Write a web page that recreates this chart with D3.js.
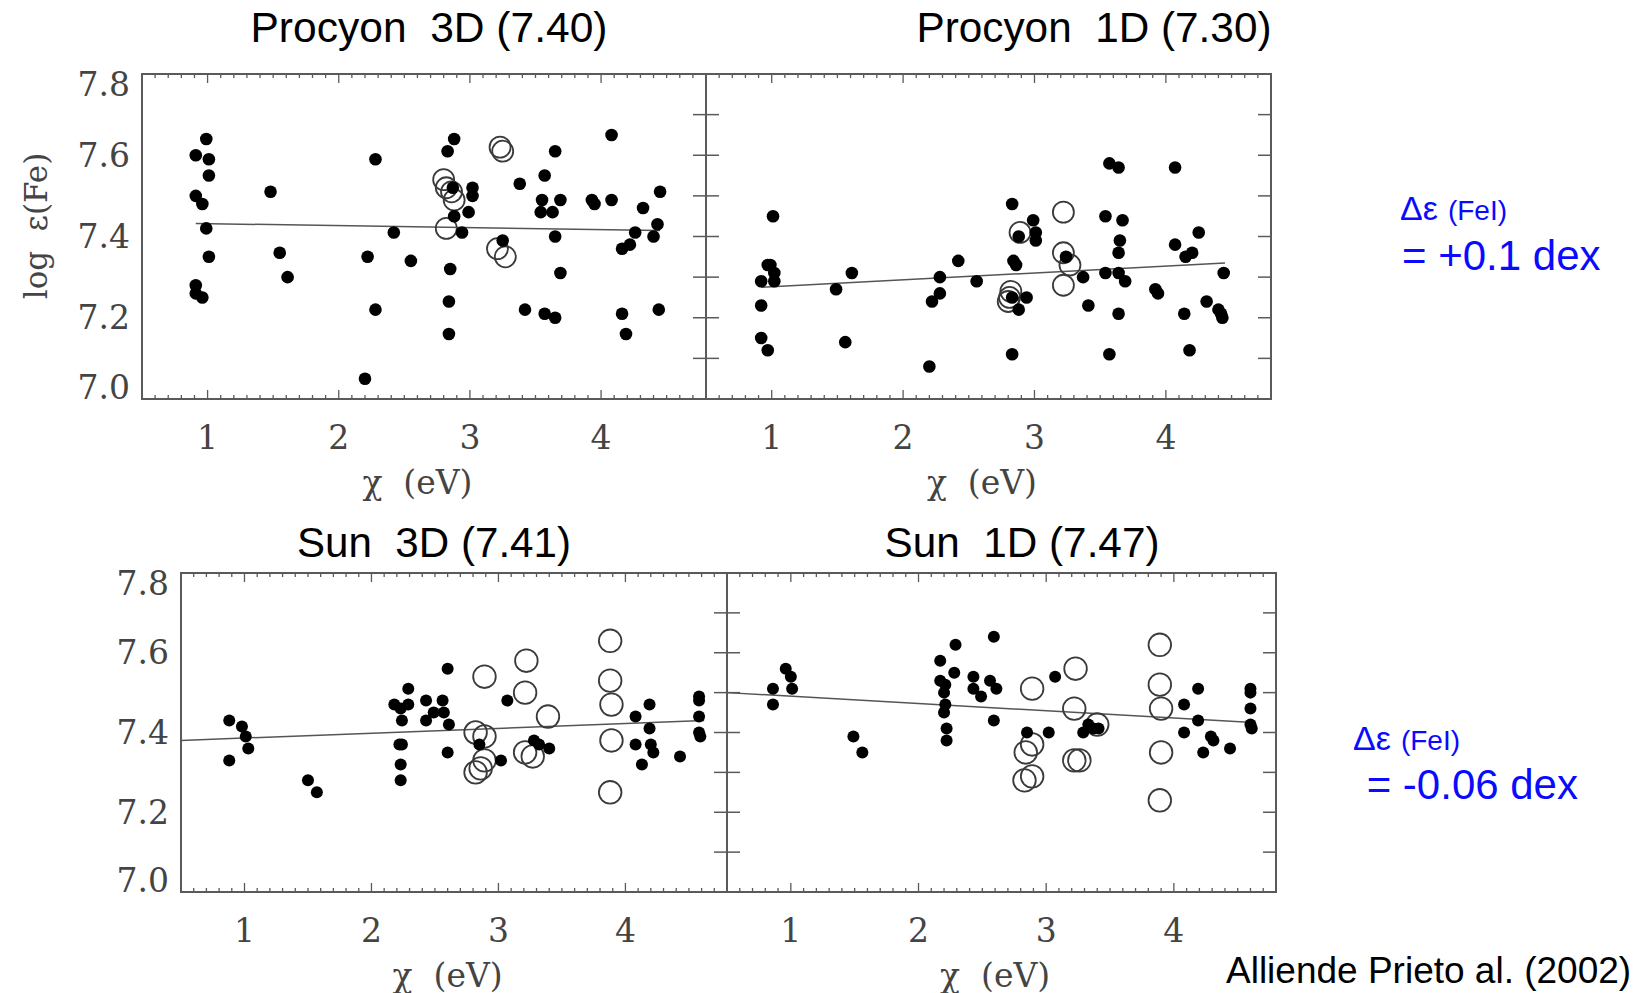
<!DOCTYPE html>
<html><head><meta charset="utf-8">
<script src="https://cdn.jsdelivr.net/npm/d3@7"></script>
<style>html,body{margin:0;padding:0;background:#fff;}svg{display:block;}</style>
</head><body>
<script>
// ---------- DATA ----------
const xTicks = [1, 2, 3, 4];
const yTickLabels = [7.0, 7.2, 7.4, 7.6, 7.8];
const titles = ["Procyon  3D (7.40)", "Procyon  1D (7.30)", "Sun  3D (7.41)", "Sun  1D (7.47)"];

// Procyon 3D
const p3dFilled = [[0.91,7.60],[0.99,7.64],[1.01,7.59],[1.01,7.55],[0.91,7.50],[0.96,7.48],[0.99,7.42],[1.01,7.35],
 [0.91,7.28],[0.91,7.26],[0.96,7.25],[1.48,7.51],[1.55,7.36],[1.61,7.30],[2.28,7.59],[2.22,7.35],[2.28,7.22],[2.20,7.05],
 [2.42,7.41],[2.55,7.34],[2.83,7.61],[2.88,7.64],[2.87,7.52],[2.88,7.45],[2.94,7.41],[2.85,7.32],[2.84,7.24],[2.84,7.16],
 [3.02,7.52],[3.02,7.50],[2.99,7.46],[3.25,7.39],[3.38,7.53],[3.42,7.22],[3.57,7.55],[3.55,7.49],[3.54,7.46],[3.63,7.46],
 [3.69,7.49],[3.65,7.61],[3.65,7.40],[3.69,7.31],[3.57,7.21],[3.65,7.20],[3.93,7.49],[3.95,7.48],[4.08,7.49],[4.08,7.65],
 [4.16,7.37],[4.22,7.38],[4.26,7.41],[4.16,7.21],[4.19,7.16],[4.32,7.47],[4.40,7.40],[4.43,7.43],[4.45,7.51],[4.44,7.22]];
const p3dOpen = [[3.23,7.62],[3.25,7.61],[2.80,7.54],[2.82,7.52],[2.86,7.51],[2.88,7.49],[2.82,7.42],[3.21,7.37],[3.27,7.35]];
const p3dFit = [[0.91,7.432],[4.45,7.415]];

// Procyon 1D
const p1dFilled = [[1.01,7.45],[0.97,7.33],[0.99,7.33],[1.02,7.31],[0.92,7.29],[1.02,7.29],[0.92,7.23],[0.92,7.15],
 [0.97,7.12],[1.49,7.27],[1.61,7.31],[1.56,7.14],[2.20,7.08],[2.22,7.24],[2.28,7.26],[2.28,7.30],[2.42,7.34],[2.56,7.29],
 [2.83,7.48],[2.84,7.34],[2.86,7.33],[2.88,7.40],[2.83,7.25],[2.88,7.22],[2.94,7.25],[2.83,7.11],[2.99,7.44],[3.01,7.41],
 [3.01,7.39],[3.24,7.35],[3.37,7.30],[3.41,7.23],[3.54,7.45],[3.57,7.58],[3.64,7.57],[3.67,7.44],[3.65,7.39],[3.64,7.36],
 [3.54,7.31],[3.64,7.31],[3.69,7.29],[3.64,7.21],[3.57,7.11],[3.92,7.27],[3.94,7.26],[4.07,7.57],[4.07,7.38],[4.15,7.35],
 [4.20,7.36],[4.25,7.41],[4.14,7.21],[4.18,7.12],[4.31,7.24],[4.40,7.22],[4.42,7.21],[4.43,7.20],[4.44,7.31]];
const p1dOpen = [[3.22,7.46],[2.89,7.41],[3.22,7.36],[3.27,7.33],[3.22,7.28],[2.82,7.265],[2.81,7.25],[2.80,7.24]];
const p1dFit = [[0.92,7.275],[4.45,7.335]];

// Sun 3D
const s3dFilled = [[0.88,7.43],[0.88,7.33],[0.98,7.415],[1.01,7.39],[1.03,7.36],[1.50,7.28],[1.57,7.25],[2.18,7.47],
 [2.23,7.46],[2.24,7.43],[2.29,7.51],[2.29,7.47],[2.22,7.37],[2.24,7.37],[2.23,7.32],[2.23,7.28],[2.43,7.48],[2.43,7.43],
 [2.49,7.45],[2.56,7.48],[2.57,7.45],[2.60,7.56],[2.61,7.42],[2.60,7.35],[2.85,7.37],[3.02,7.33],[3.07,7.48],[3.28,7.38],
 [3.32,7.37],[3.40,7.36],[4.08,7.44],[4.08,7.37],[4.19,7.47],[4.19,7.41],[4.13,7.32],[4.20,7.37],[4.22,7.35],[4.43,7.34],
 [4.58,7.49],[4.58,7.48],[4.58,7.44],[4.58,7.40],[4.59,7.39]];
const s3dOpen = [[2.89,7.54],[2.82,7.40],[2.89,7.39],[2.89,7.33],[2.82,7.30],[2.86,7.31],[3.22,7.58],[3.21,7.50],
 [3.39,7.44],[3.21,7.35],[3.27,7.34],[3.88,7.63],[3.88,7.53],[3.89,7.47],[3.89,7.38],[3.88,7.25]];
const s3dFit = [[0.5,7.38],[4.62,7.43]];

// Sun 1D
const s1dFilled = [[0.86,7.51],[0.86,7.47],[0.96,7.56],[1.00,7.54],[1.01,7.51],[1.49,7.39],[1.56,7.35],[2.17,7.58],
 [2.17,7.53],[2.21,7.52],[2.20,7.50],[2.21,7.47],[2.20,7.45],[2.22,7.41],[2.22,7.38],[2.29,7.62],[2.28,7.55],[2.43,7.54],
 [2.43,7.51],[2.49,7.49],[2.56,7.53],[2.61,7.51],[2.59,7.64],[2.59,7.43],[2.85,7.40],[3.02,7.40],[3.07,7.54],[3.29,7.40],
 [3.33,7.42],[3.37,7.41],[3.41,7.41],[4.08,7.47],[4.08,7.40],[4.19,7.51],[4.19,7.43],[4.29,7.39],[4.31,7.38],[4.23,7.35],
 [4.44,7.36],[4.60,7.51],[4.60,7.50],[4.60,7.46],[4.60,7.42],[4.61,7.41]];
const s1dOpen = [[2.89,7.51],[2.89,7.37],[2.84,7.35],[2.89,7.29],[2.83,7.28],[3.23,7.56],[3.22,7.46],[3.40,7.42],
 [3.22,7.33],[3.26,7.33],[3.89,7.62],[3.89,7.52],[3.90,7.46],[3.90,7.35],[3.89,7.23]];
const s1dFit = [[0.5,7.50],[4.62,7.425]];

// ---------- LAYOUT ----------
const W = 1649, H = 993;
const svg = d3.select("body").append("svg").attr("width", W).attr("height", H);

const panels = [
  {title: titles[0], tx: 429, ty: 42, tw: 357, x0: 142, x1: 706, y0: 74, y1: 399, filled: p3dFilled, open: p3dOpen, fit: p3dFit, first: true, rO: 10.5, rF: 6.3},
  {title: titles[1], tx: 1094, ty: 42, tw: 355, x0: 706, x1: 1271, y0: 74, y1: 399, filled: p1dFilled, open: p1dOpen, fit: p1dFit, first: false, rO: 10.5, rF: 6.3},
  {title: titles[2], tx: 434, ty: 557, tw: 274, x0: 181, x1: 727, y0: 573, y1: 892, filled: s3dFilled, open: s3dOpen, fit: s3dFit, first: true, rO: 11.3, rF: 6},
  {title: titles[3], tx: 1022, ty: 557, tw: 275, x0: 727, x1: 1276, y0: 573, y1: 892, filled: s1dFilled, open: s1dOpen, fit: s1dFit, first: false, rO: 11.3, rF: 6}
];

const frameCol = "#5a5a5a";
const serif = "'DejaVu Serif', serif";
const sans = "'Liberation Sans', Arial, sans-serif";

panels.forEach((p, i) => {
  const x = d3.scaleLinear().domain([0.5, 4.8]).range([p.x0, p.x1]);
  const y = d3.scaleLinear().domain([7.0, 7.8]).range([p.y1, p.y0]);
  const g = svg.append("g");

  // minor / major x ticks (inward, top and bottom)
  const xt = d3.range(5, 49).map(v => v / 10);
  xt.forEach(v => {
    const major = Math.abs(v - Math.round(v)) < 1e-6;
    const L = major ? 9 : 4;
    g.append("line").attr("x1", x(v)).attr("x2", x(v)).attr("y1", p.y1).attr("y2", p.y1 - L)
      .attr("stroke", frameCol).attr("stroke-width", 1.3);
    g.append("line").attr("x1", x(v)).attr("x2", x(v)).attr("y1", p.y0).attr("y2", p.y0 + L)
      .attr("stroke", frameCol).attr("stroke-width", 1.3);
  });
  // y ticks (every 0.1, 7.1..7.7) on right side, and on left for right-hand panels
  const yt = d3.range(71, 79).map(v => v / 10);
  yt.forEach(v => {
    g.append("line").attr("x1", p.x1).attr("x2", p.x1 - 13).attr("y1", y(v)).attr("y2", y(v))
      .attr("stroke", frameCol).attr("stroke-width", 1.5);
    if (!p.first) {
      g.append("line").attr("x1", p.x0).attr("x2", p.x0 + 13).attr("y1", y(v)).attr("y2", y(v))
        .attr("stroke", frameCol).attr("stroke-width", 1.5);
    }
  });

  // frame
  g.append("rect").attr("x", p.x0).attr("y", p.y0).attr("width", p.x1 - p.x0).attr("height", p.y1 - p.y0)
    .attr("fill", "none").attr("stroke", frameCol).attr("stroke-width", 2);

  // x tick labels
  g.selectAll(".xl").data(xTicks).enter().append("text")
    .attr("x", d => x(d)).attr("y", p.y1 + 38)
    .attr("text-anchor", "middle").attr("dominant-baseline", "central")
    .attr("font-family", serif).attr("font-size", 33).attr("fill", "#444")
    .text(d => d);

  // x axis label
  g.append("text").attr("x", x(2.6)).attr("y", p.y1 + 83)
    .attr("text-anchor", "middle").attr("dominant-baseline", "central")
    .attr("font-family", serif).attr("font-size", 33).attr("fill", "#444")
    .style("white-space", "pre")
    .text("χ  (eV)");

  // y tick labels on left-hand panels
  if (p.first) {
    g.selectAll(".yl").data(yTickLabels).enter().append("text")
      .attr("x", p.x0 - 12)
      .attr("y", d => Math.max(p.y0 + 10, Math.min(p.y1 - 12, y(d))))
      .attr("text-anchor", "end").attr("dominant-baseline", "central")
      .attr("font-family", serif).attr("font-size", 33).attr("fill", "#444")
      .text(d => d.toFixed(1));
  }

  // fit line
  g.append("path").datum(p.fit)
    .attr("d", d3.line().x(d => x(d[0])).y(d => y(d[1])))
    .attr("stroke", "#555").attr("stroke-width", 1.5).attr("fill", "none");

  // open circles
  g.selectAll(".o").data(p.open).enter().append("circle")
    .attr("cx", d => x(d[0])).attr("cy", d => y(d[1])).attr("r", p.rO)
    .attr("fill", "none").attr("stroke", "#3a3a3a").attr("stroke-width", 1.8);

  // filled dots
  g.selectAll(".f").data(p.filled).enter().append("circle")
    .attr("cx", d => x(d[0])).attr("cy", d => y(d[1])).attr("r", p.rF)
    .attr("fill", "#000");

  // title
  svg.append("text").attr("x", p.tx).attr("y", p.ty)
    .attr("text-anchor", "middle").attr("font-family", sans).attr("font-size", 42)
    .attr("fill", "#000")
    .attr("textLength", p.tw).attr("lengthAdjust", "spacingAndGlyphs")
    .style("white-space", "pre")
    .text(p.title);
});

// y axis label (top-left only)
svg.append("text")
  .attr("transform", "translate(47,226) rotate(-90)")
  .attr("text-anchor", "middle")
  .attr("font-family", serif).attr("font-size", 31).attr("fill", "#444")
  .style("white-space", "pre")
  .text("log  ε(Fe)");

// annotations
const blue = "#0a0aff";
function annot(xp, yDelta, yLine, txt) {
  const t = svg.append("text").attr("x", xp).attr("y", yDelta).attr("font-family", sans).attr("fill", blue);
  t.append("tspan").attr("font-size", 34).text("Δε");
  t.append("tspan").attr("font-size", 28).attr("dx", 10).text("(FeI)");
  svg.append("text").attr("x", xp + 2).attr("y", yLine).attr("font-family", sans).attr("fill", blue)
    .attr("font-size", 42).style("white-space", "pre").text(txt);
}
annot(1400, 220, 270, "= +0.1 dex");
annot(1353, 750, 799, " = -0.06 dex");

// credit
svg.append("text").attr("x", 1226).attr("y", 983)
  .attr("font-family", sans).attr("font-size", 37).attr("fill", "#000")
  .text("Alliende Prieto al. (2002)");
</script>
</body></html>
